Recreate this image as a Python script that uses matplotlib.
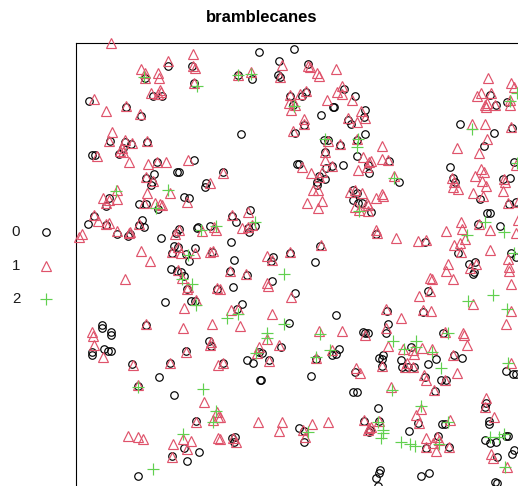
import numpy as np
import matplotlib
matplotlib.use('Agg')
import matplotlib.pyplot as plt

plt.rcParams['font.family'] = ['Liberation Sans', 'DejaVu Sans']

# values, in plot units (origin top-left of the device)
marks = ['0', '1', '2']

pts_0 = [
    (168,66),(192,66),(194,83),(145,78),(153,96),(162,96),(89,101),(126,107),(141,116),(110,141),
    (125,142),(131,144),(147,142),(123,148),(119,154),(92,155),(95,155),(194,160),(157,162),(177,172),
    (179,172),(154,174),(146,178),(152,182),(206,183),
    (259,52),(294,49),(279,61),(308,64),(238,75),(252,79),(278,75),(280,77),(290,96),(306,92),
    (302,96),(344,89),(355,96),(293,105),(334,107),(333,107),(321,115),(365,110),(364,117),(351,124),
    (348,120),(304,125),(241,134),(295,133),(324,140),(328,140),(365,134),(357,140),(325,152),(340,145),
    (357,156),(297,164),(299,164),(332,166),(343,165),(326,168),(368,165),(369,173),(319,176),(325,179),
    (317,182),(223,172),
    (490,95),(496,105),(507,102),(460,124),(512,128),(494,133),(484,146),(389,161),(450,167),(514,162),
    (399,182),(510,178),(503,179),(453,178),(455,182),
    (109,198),(106,206),(139,204),(146,204),(184,197),(189,198),(158,209),(94,216),(88,224),(106,225),
    (142,220),(144,227),(139,225),(117,234),(128,236),(130,234),(161,238),(179,229),(176,233),(198,227),
    (210,226),(197,228),(174,246),(178,247),(195,248),(186,254),(189,261),(212,252),(172,253),(171,269),
    (177,271),(184,276),(181,272),(187,289),(165,302),(191,301),(195,301),(217,289),(102,325),(102,328),
    (111,332),(146,325),(205,187),(151,185),
    (317,185),(250,210),(232,216),(236,222),(255,226),(249,232),(248,228),(231,242),(234,260),(273,257),
    (271,261),(290,253),(320,246),(315,262),(230,271),(247,275),(272,281),(233,287),(295,293),(242,304),
    (237,309),(289,323),(336,315),(363,332),(365,333),(353,190),(357,193),(353,200),(358,203),(362,203),
    (480,199),(371,212),(509,204),(516,202),(487,213),(490,213),(478,224),(500,226),(376,234),(425,242),
    (458,253),(469,264),(475,262),(473,274),(474,272),(428,291),(511,253),(516,257),(387,311),(423,312),
    (388,324),(386,333),(443,333),(368,333),
    (92,352),(92,355),(104,349),(108,351),(111,351),(186,351),(132,364),(170,363),(159,377),(138,386),
    (174,395),(209,341),(211,346),(196,421),(184,448),(199,452),(187,461),(172,456),(138,476),(111,335),
    (259,352),(262,353),(281,347),(247,360),(253,363),(269,360),(223,363),(261,380),(260,380),(316,359),
    (311,376),(332,355),(336,354),(339,349),(355,372),(353,392),(357,392),(299,428),(304,431),(304,442),
    (364,421),(369,432),(232,438),(235,437),(234,442),
    (379,358),(383,355),(382,359),(382,366),(401,360),(411,347),(402,367),(408,367),(414,367),(428,364),
    (436,359),(462,358),(454,355),(506,371),(513,374),(516,374),(425,377),(441,380),(446,380),(435,391),
    (378,408),(486,403),(485,407),(489,421),(489,424),(418,423),(379,421),(409,431),(442,424),(445,424),
    (370,430),(438,436),(426,448),(449,447),(485,440),(490,443),(496,442),(506,436),(508,436),(497,457),
    (514,450),(512,454),(380,470),(379,473),(376,478),(378,486),(421,476),(429,473),(495,482),(497,483),
]

pts_1 = [
    (111,43),(193,54),(168,61),(141,69),(193,66),(195,68),(158,73),(159,78),(145,73),(145,78),
    (194,83),(151,93),(160,90),(161,92),(158,94),(94,99),(126,106),(106,111),(140,114),(112,132),
    (109,141),(125,140),(132,143),(147,141),(122,148),(120,151),(123,152),(97,156),(129,162),(148,164),
    (157,162),(166,162),(188,160),(146,177),(153,181),(210,183),
    (282,65),(308,66),(310,67),(336,69),(317,73),(319,76),(238,75),(251,72),(280,77),(290,95),
    (300,94),(306,91),(289,103),(291,110),(295,105),(327,100),(342,86),(337,92),(342,94),(352,100),
    (361,111),(365,118),(348,118),(357,122),(304,119),(304,124),(293,131),(328,141),(340,144),(357,139),
    (325,152),(325,160),(363,157),(369,162),(367,167),(302,167),(332,166),(358,170),(311,173),(322,172),
    (319,177),(223,173),
    (488,78),(511,83),(514,87),(481,93),(477,96),(491,93),(485,105),(487,103),(486,107),(495,105),
    (510,100),(510,105),(472,124),(485,124),(511,127),(487,139),(457,148),(479,153),(382,146),(382,159),
    (388,160),(371,161),(394,176),(481,169),(484,172),(475,176),(482,181),(504,179),(505,182),(452,178),
    (454,182),(516,165),
    (117,190),(170,193),(147,193),(103,198),(117,199),(109,200),(106,203),(187,202),(144,203),(155,203),
    (160,204),(162,205),(94,215),(98,221),(109,223),(106,224),(117,231),(82,234),(79,237),(130,232),
    (129,233),(139,224),(175,234),(179,230),(202,231),(214,227),(216,230),(141,251),(150,261),(172,252),
    (178,247),(181,253),(195,253),(210,252),(213,251),(125,279),(178,270),(182,278),(188,287),(187,289),
    (217,288),(196,300),(184,308),(146,324),(183,328),(212,324),(92,332),
    (313,190),(318,190),(307,203),(322,201),(318,208),(350,192),(355,190),(362,193),(367,203),(355,207),
    (359,210),(368,211),(232,215),(248,212),(242,228),(248,227),(252,225),(321,245),(267,256),(272,260),
    (290,252),(230,271),(246,274),(267,283),(268,286),(291,297),(231,310),(238,309),(272,314),(240,326),
    (319,331),(342,331),(220,289),
    (453,187),(458,189),(486,186),(503,191),(473,193),(483,196),(376,198),(382,194),(383,196),(368,205),
    (508,203),(518,202),(461,222),(462,229),(479,224),(490,230),(446,231),(376,230),(377,233),(396,238),
    (418,241),(426,240),(516,233),(518,220),(454,245),(460,243),(465,239),(461,252),(490,250),(508,259),
    (509,267),(509,271),(448,264),(446,271),(453,279),(470,268),(476,264),(430,278),(432,279),(419,296),
    (430,291),(511,284),(473,304),(511,311),(506,324),(386,309),(423,310),(431,311),(401,318),(386,328),
    (445,332),(463,333),
    (94,345),(103,357),(186,352),(133,365),(170,363),(210,345),(211,342),(138,385),(204,402),(218,365),
    (196,422),(213,420),(217,412),(218,417),(128,436),(138,437),(143,439),(173,444),(183,439),(191,441),
    (187,449),(218,438),(172,457),(93,336),
    (267,339),(259,347),(279,345),(257,353),(269,361),(223,363),(316,358),(332,350),(356,368),(360,373),
    (365,335),(220,417),(258,422),(282,422),(279,431),(312,424),(328,422),(303,430),(305,437),(364,420),
    (369,428),(220,439),(236,442),(233,438),
    (388,346),(403,349),(413,350),(414,354),(422,348),(432,349),(467,345),(464,335),(453,355),(382,366),
    (407,363),(405,367),(413,367),(457,373),(424,375),(426,380),(445,380),(434,390),(391,387),(486,398),
    (485,407),(494,417),(421,409),(416,415),(419,423),(450,420),(379,421),(371,427),(368,430),(426,438),
    (439,440),(433,443),(436,451),(426,447),(449,447),(437,437),(511,363),(491,454),(493,458),(507,467),
]

pts_2 = [
    (144,77),(197,86),
    (238,75),(251,74),(294,106),(325,139),(358,139),(357,147),
    (510,101),(472,129),(394,178),(517,93),(517,163),
    (116,191),(168,190),(156,208),(201,230),(216,226),(188,255),(182,279),(192,284),(196,305),
    (255,222),(359,211),(284,274),(227,318),(238,314),(284,324),(267,333),(320,334),
    (485,222),(504,232),(467,235),(514,253),(493,295),(468,301),(507,309),(448,333),
    (138,387),(203,389),(216,411),(213,422),(183,434),(153,469),
    (267,338),(256,353),(316,357),(330,350),(308,432),
    (393,341),(416,341),(416,347),(404,349),(432,352),(441,368),(392,390),(421,406),(508,363),(448,422),
    (383,430),(383,433),(381,438),(401,442),(410,444),(415,446),(439,444),(490,437),(499,437),(504,434),
    (505,467),(378,422),
]

styles = {
    '0': dict(marker='o', color='#000000', ms=5.4, mfc='none', mew=0.85),
    '1': dict(marker='^', color='#DF536B', ms=7.2, mfc='none', mew=0.85),
    '2': dict(marker='+', color='#61D04F', ms=8.0, mew=0.85),
}

fig = plt.figure(figsize=(5.18, 4.86), dpi=100)
ax = fig.add_axes([76 / 518, 0, (518 - 76) / 518, (486 - 43.5) / 486])
ax.set_xlim(76, 518)
ax.set_ylim(486, 43.5)
ax.set_xticks([])
ax.set_yticks([])
for side in ['right', 'bottom']:
    ax.spines[side].set_visible(False)
for side in ['left', 'top']:
    ax.spines[side].set_linewidth(0.8)

for name, pts in zip(marks, [pts_0, pts_1, pts_2]):
    xy = np.array(pts, dtype=float)
    ax.plot(xy[:, 0], xy[:, 1], ls='none', clip_on=False, zorder=3, **styles[name])

# side key, R style
for name, key_y in zip(marks, [232, 265.5, 299]):
    ax.text(16, key_y, name, fontsize=10.8, ha='center', va='center', color='#1a1a1a')
    ax.plot([46], [key_y], ls='none', clip_on=False, **styles[name])

fig.text(262 / 518, 1 - 17 / 486, 'bramblecanes', fontsize=12, fontweight='bold',
         ha='center', va='center')

fig.savefig('out.png', dpi=100)
